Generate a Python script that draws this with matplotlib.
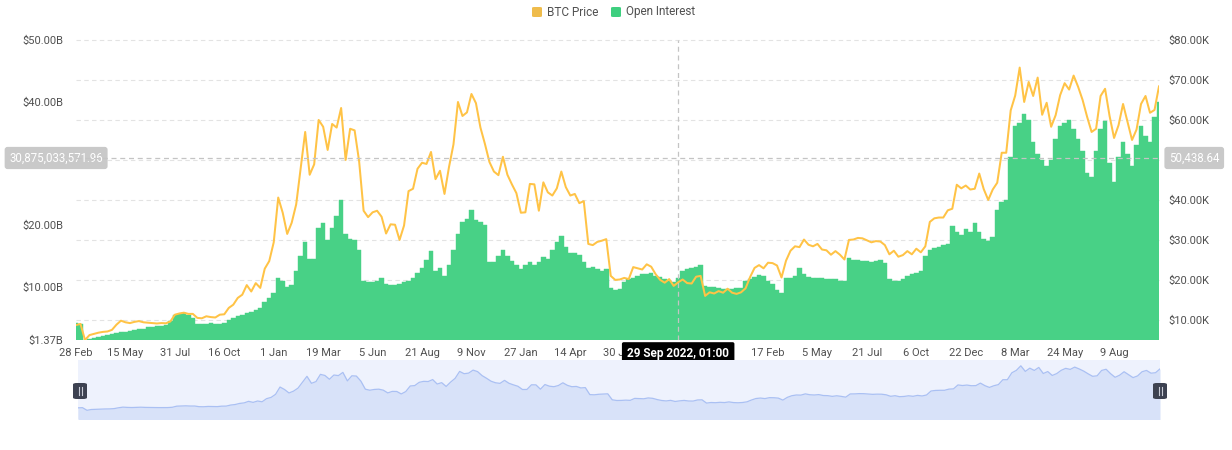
import matplotlib
matplotlib.use("Agg")
import matplotlib.pyplot as plt
import numpy as np
from decimal import Decimal
from matplotlib.patches import FancyBboxPatch
from matplotlib.lines import Line2D
from matplotlib.transforms import blended_transform_factory
from matplotlib.ticker import FixedLocator, FuncFormatter

plt.rcParams['font.family'] = ['Roboto', 'DejaVu Sans']

# ---------------- data (weekly readings, one value every 7 daily categories) -------------
btc_price_k = [
    # 2020
    8.7, 9.0, 4.97, 6.2, 6.5, 6.8, 7.0, 7.1, 7.5, 8.8,
    9.8, 9.4, 9.2, 9.5, 9.7, 9.4, 9.3, 9.2, 9.1, 9.2,
    9.15, 9.6, 11.3, 11.6, 11.8, 11.5, 11.5, 10.5, 10.4, 10.9,
    10.7, 10.6, 11.3, 11.4, 13.0, 13.8, 15.5, 16.3, 18.7, 17.1,
    19.2, 18.0, 22.8, 24.7,
    # 2021
    29.4, 40.6, 36.8, 31.5, 34.3, 38.9, 47.9, 57.0, 46.3, 48.9,
    60.0, 58.3, 52.5, 59.0, 58.1, 63.0, 50.0, 57.8, 57.4, 49.7,
    37.3, 35.7, 36.9, 37.3, 35.8, 31.6, 33.9, 33.8, 30.0, 33.6,
    42.2, 42.8, 47.8, 49.3, 49.0, 52.0, 45.2, 47.3, 41.5, 48.2,
    53.9, 64.5, 61.0, 61.9, 66.5, 64.2, 58.1, 54.0, 49.5, 47.1,
    46.2, 50.8, 46.3,
    # 2022
    43.9, 41.7, 36.8, 36.9, 44.0, 43.9, 37.3, 44.4, 41.9, 41.1,
    42.9, 47.1, 43.2, 41.1, 41.5, 39.2, 39.7, 29.0, 28.7, 29.5,
    29.8, 30.2, 21.0, 20.0, 20.1, 20.5, 20.2, 23.2, 22.9, 22.6,
    23.9, 23.3, 21.4, 20.0, 19.3, 20.2, 18.5, 19.4, 20.1, 19.2,
    19.1, 20.8, 21.0, 16.0, 16.9, 16.6, 17.2, 16.8, 17.8, 16.8,
    16.5,
    # 2023
    16.9, 17.9, 20.7, 23.0, 23.7, 22.9, 24.3, 24.2, 23.6, 20.6,
    24.8, 27.3, 28.4, 28.2, 30.1, 28.8, 28.4, 29.0, 27.6, 27.4,
    26.3, 27.2, 26.3, 25.1, 30.0, 30.1, 30.5, 30.4, 29.9, 29.4,
    29.7, 29.6, 28.7, 26.4, 27.3, 25.8, 26.2, 27.2, 26.4, 27.8,
    26.9, 28.4, 34.5, 35.4, 35.6, 35.6, 37.4, 37.8, 43.8, 42.9,
    43.6, 42.6,
    # 2024
    42.8, 46.6, 42.7, 40.0, 42.6, 44.3, 51.8, 51.8, 62.4, 66.1,
    73.1, 64.5, 69.5, 66.0, 70.6, 61.3, 64.3, 58.3, 61.2, 66.2,
    69.2, 67.6, 71.1, 68.3, 65.0, 60.8, 57.0, 57.8, 66.0, 67.8,
    61.0, 55.5, 58.7, 64.0, 59.5, 55.0, 57.6, 64.0, 66.0, 61.8,
    62.5, 68.4,
]

open_interest_b = [
    4.2, 4.0, 1.37, 1.6, 1.7, 1.9, 2.0, 2.1, 2.3, 2.5,
    2.6, 2.7, 2.9, 3.0, 3.1, 3.2, 3.4, 3.5, 3.6, 3.7,
    3.8, 4.5, 5.4, 5.6, 5.8, 5.5, 5.0, 3.9, 3.9, 4.0,
    4.1, 4.0, 3.9, 4.1, 4.6, 4.9, 5.2, 5.4, 5.8, 5.9,
    6.3, 6.5, 7.5, 8.2, 9.0, 11.5, 11.0, 10.0, 10.3, 12.5,
    15.0, 17.3, 14.5, 14.5, 19.5, 20.3, 17.5, 19.5, 21.5, 24.0,
    18.5, 17.8, 17.5, 16.0, 11.0, 10.8, 10.8, 11.0, 11.5, 10.5,
    10.3, 10.3, 10.5, 10.8, 11.0, 11.5, 12.3, 13.0, 14.3, 15.8,
    12.5, 13.0, 11.8, 13.5, 16.0, 18.5, 20.5, 21.0, 22.5, 20.8,
    20.5, 20.0, 14.0, 14.0, 15.0, 16.0, 15.0, 14.2, 13.5, 12.8,
    13.5, 14.0, 13.5, 14.0, 14.8, 14.5, 16.0, 17.3, 18.2, 16.5,
    15.5, 15.5, 15.2, 14.0, 13.0, 13.2, 12.8, 12.5, 12.8, 9.8,
    9.5, 9.6, 10.8, 11.2, 11.5, 11.8, 12.0, 12.0, 12.2, 11.8,
    11.6, 11.2, 10.9, 10.7, 11.5, 12.5, 12.8, 13.0, 13.2, 13.6,
    10.2, 10.0, 10.0, 9.8, 9.6, 9.6, 9.7, 9.8, 9.8, 11.0,
    11.3, 11.6, 11.9, 11.8, 11.0, 10.5, 9.5, 9.0, 11.5, 11.4,
    11.8, 13.0, 12.0, 11.6, 11.5, 11.4, 11.4, 11.3, 11.3, 11.2,
    11.0, 11.0, 14.6, 14.4, 14.3, 14.2, 14.2, 14.0, 14.1, 14.3,
    13.8, 11.2, 11.0, 11.0, 11.2, 11.8, 12.0, 12.2, 12.6, 15.0,
    16.0, 16.3, 16.5, 16.8, 17.0, 19.8, 18.8, 18.4, 19.3, 18.8,
    20.3, 18.8, 17.8, 17.4, 18.0, 22.5, 23.8, 24.0, 31.0, 36.0,
    36.5, 38.0, 37.0, 33.5, 31.5, 30.5, 29.5, 30.5, 34.0, 36.0,
    36.5, 37.0, 35.5, 34.0, 32.0, 28.5, 27.8, 32.0, 35.5, 36.8,
    30.0, 27.0, 31.0, 33.5, 31.5, 29.5, 33.0, 36.0, 34.5, 33.5,
    37.5, 40.0,
]

# labels every 77 categories; two of them sit under the cursor's date box
x_labels = ['28 Feb', '15 May', '31 Jul', '16 Oct', '1 Jan', '19 Mar', '5 Jun',
            '21 Aug', '9 Nov', '27 Jan', '14 Apr', '30 Jun', '', '',
            '17 Feb', '5 May', '21 Jul', '6 Oct', '22 Dec', '8 Mar', '24 May', '9 Aug']

price_ticks_k = [10, 20, 30, 40, 50, 60, 70, 80]
price_ticks_hidden = [50]          # covered by the cursor's value box
oi_ticks_b = [10, 20, 30, 40, 50]
oi_ticks_hidden = [30]             # covered by the cursor's value box

cross_point = 134                  # weekly point under the cursor
cross_date = '29 Sep 2022, 01:00'
cross_oi_value = Decimal('30875033571.96')
cross_price_value = Decimal('50438.64')

legend_names = ['BTC Price', 'Open Interest']

# ---------------- style ----------------
GREEN = '#48d186'
ORANGE = '#ffc346'
ORANGE_SW = '#efbc4c'
GREEN_SW = '#3ecf7f'
TXT = '#505050'
W, H = 1232, 450
STEP = 7          # categories per weekly point
LABEL_EVERY = 77  # categories between axis labels

fig = plt.figure(figsize=(W / 100, H / 100), dpi=100)


def rect(l, t, r, b):
    return [l / W, 1 - b / H, (r - l) / W, (b - t) / H]


ax = fig.add_axes(rect(76, 40, 1159, 340))
ax2 = ax.twinx()

n = len(btc_price_k)
xs = np.arange(n) * STEP
oi = np.array(open_interest_b)
pr = np.array(btc_price_k)

ax.set_xlim(0, xs[-1])
ax.set_ylim(oi.min(), max(oi_ticks_b))
ax2.set_ylim(pr.min(), max(price_ticks_k))

# grid lines (of the price axis), behind the bars
gtr = blended_transform_factory(ax.transAxes, ax2.transData)
for p in price_ticks_k:
    ax.plot([0, 1], [p, p], transform=gtr, color='#e3e3e3', lw=0.8,
            ls=(0, (4, 3)), zorder=0, clip_on=False)

ax.bar(xs, oi, width=STEP, color=GREEN, linewidth=0.3, edgecolor=GREEN,
       align='center', zorder=2)
ax2.plot(xs, pr, color=ORANGE, lw=1.45, zorder=3, solid_joinstyle='round')

for a in (ax, ax2):
    for s in a.spines.values():
        s.set_visible(False)

# y ticks
oi_shown = [oi.min()] + [v for v in oi_ticks_b if v not in oi_ticks_hidden]
ax.yaxis.set_major_locator(FixedLocator(oi_shown))
ax.yaxis.set_major_formatter(FuncFormatter(lambda v, p: '$%.2fB' % v))
ax.tick_params(axis='y', length=0, pad=9, labelsize=8, labelcolor=TXT)
pr_shown = [v for v in price_ticks_k if v not in price_ticks_hidden]
ax2.yaxis.set_major_locator(FixedLocator(pr_shown))
ax2.yaxis.set_major_formatter(FuncFormatter(lambda v, p: '$%.2fK' % v))
ax2.tick_params(axis='y', length=0, pad=7, labelsize=8, labelcolor=TXT)

# x ticks
ax.set_xticks(np.arange(len(x_labels)) * LABEL_EVERY)
ax.set_xticklabels(x_labels)
ax.tick_params(axis='x', length=0, pad=6, labelsize=8, labelcolor=TXT)

# crosshair
cx = xs[cross_point]
cy = float(cross_oi_value) / 1e9
ax2.axvline(cx, color='#c4c4c4', lw=0.9, ls=(0, (4, 3)), zorder=5)
htr = blended_transform_factory(ax2.transAxes, ax.transData)
ax2.plot([0, 1], [cy, cy], transform=htr, color='#c4c4c4',
         lw=0.9, ls=(0, (4, 3)), zorder=5)

ax.annotate('{:,.2f}'.format(cross_oi_value), xy=(0, cy),
            xycoords=('axes fraction', 'data'), xytext=(27, 0),
            textcoords='offset pixels', ha='right', va='center', fontsize=8.3,
            color='white', zorder=20, annotation_clip=False,
            bbox=dict(boxstyle='round,pad=0.4,rounding_size=0.25', fc='#c9c9c9', ec='none'))
ax2.annotate('{:,.2f}'.format(cross_price_value), xy=(1, cy),
             xycoords=('axes fraction', ax.transData), xytext=(10, 0),
             textcoords='offset pixels', ha='left', va='center', fontsize=8.3,
             color='white', zorder=20, annotation_clip=False,
             bbox=dict(boxstyle='round,pad=0.4,rounding_size=0.25', fc='#c9c9c9', ec='none'))
ax2.annotate(cross_date, xy=(cx, 0), xycoords=('data', 'axes fraction'),
             xytext=(0, -14), textcoords='offset pixels', ha='center', va='center',
             fontsize=8.5, fontweight='bold', color='white', zorder=20,
             annotation_clip=False,
             bbox=dict(boxstyle='round,pad=0.45,rounding_size=0.15', fc='black', ec='none'))

# legend
def fig_px(x, y):
    return x / W, 1 - y / H

for (sx, tx, col, name) in [(532, 547, ORANGE_SW, legend_names[0]),
                            (611, 626, GREEN_SW, legend_names[1])]:
    x0, y0 = fig_px(sx, 17)
    fig.add_artist(FancyBboxPatch((x0, y0), 10 / W, 10 / H,
                                  boxstyle='round,pad=0,rounding_size=0.002',
                                  transform=fig.transFigure, fc=col, ec='none'))
    tx_, ty_ = fig_px(tx, 12)
    fig.text(tx_, ty_, name, ha='left', va='center', fontsize=8.5, color=TXT)

# data zoom slider
sl = fig.add_axes(rect(78, 360, 1160, 419))
sl.set_facecolor('#eef2fd')
for s in sl.spines.values():
    s.set_visible(False)
sl.set_xticks([])
sl.set_yticks([])
pmin, pmax = pr.min(), pr.max()
span = pmax - pmin
sl.set_ylim(pmin - span * 9 / 46, pmax + span * 6 / 46)
sl.set_xlim(0, xs[-1])
sl.fill_between(xs, pr, pmin - span, color='#d8e2f9', lw=0)
sl.plot(xs, pr, color='#aac0f3', lw=0.9)

for hx in (80, 1160):
    x0, y0 = fig_px(hx - 7, 399)
    fig.add_artist(FancyBboxPatch((x0, y0), 14 / W, 16 / H,
                                  boxstyle='round,pad=0,rounding_size=0.003',
                                  transform=fig.transFigure, fc='#3d4251', ec='none'))
    for dx in (-1.5, 1.5):
        a, b = fig_px(hx + dx, 387)
        _, c = fig_px(hx + dx, 395)
        fig.add_artist(Line2D([a, a], [b, c], transform=fig.transFigure,
                              color='#c9ccd6', lw=0.8))

fig.savefig('out.png', dpi=100)
